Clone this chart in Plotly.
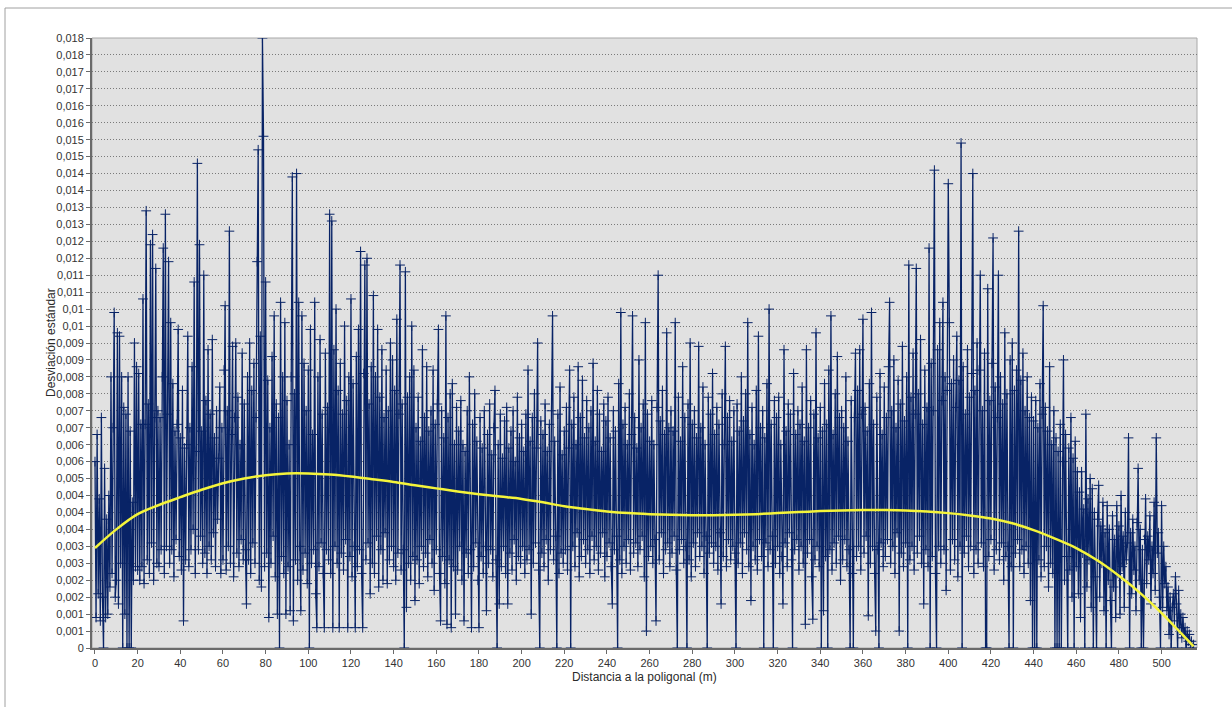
import plotly.graph_objects as go

# ---- Data (desviación estándar in thousandths, sampled every 0.5 m) ----
paso_m = 0.5

tramo_000 = [5.5, 0.9, 6.3, 1.6, 4.4, 0.8, 6.8, 1.5, 0.0, 5.3, 0.9, 3.8, 1.0, 4.5, 1.8, 8.0, 2.2, 6.5, 9.9, 1.5,
             2.0, 9.3, 1.3, 9.2, 2.5, 8.0, 0.0, 7.1, 1.0, 6.9, 0.0, 8.0, 0.0, 6.4, 0.0, 4.3, 2.0, 9.0, 2.4, 8.3,
             2.3, 8.1, 2.0, 6.6, 2.4, 10.3, 1.9, 6.6, 12.9, 2.6, 7.2, 2.2, 11.9, 3.1, 12.2, 2.0, 6.8, 11.2, 2.5, 7.0,
             2.4, 6.8, 2.9, 8.0, 11.8, 2.2, 12.8, 3.0, 6.9, 11.4, 2.5, 9.6, 2.9, 7.8, 2.1, 6.4, 3.2, 6.6, 9.4, 2.7,
             6.2, 2.3, 7.6, 0.8, 5.9, 2.6, 6.0, 9.2, 2.4, 6.5, 2.9, 8.3, 3.5, 10.8, 2.2, 5.8, 14.3, 2.9, 11.9, 3.3]
tramo_050 = [6.4, 2.5, 11.0, 2.8, 7.3, 2.2, 8.8, 3.0, 6.9, 2.6, 9.1, 3.4, 6.2, 2.4, 7.0, 3.8, 5.6, 7.7, 2.2, 6.5,
             2.6, 8.2, 10.1, 2.3, 7.0, 3.0, 12.3, 2.5, 6.3, 8.9, 2.1, 6.8, 9.0, 2.8, 7.4, 2.4, 6.0, 3.2, 8.7, 2.6,
             7.2, 2.9, 1.3, 8.0, 2.6, 9.0, 2.2, 7.6, 3.1, 8.4, 2.5, 6.8, 11.4, 14.7, 2.0, 9.2, 1.8, 18.0, 15.1, 2.4,
             10.8, 2.8, 7.9, 0.9, 6.5, 2.5, 8.6, 3.3, 9.8, 2.1, 7.2, 1.0, 6.8, 0.0, 10.2, 2.7, 8.0, 2.2, 9.6, 1.0,
             7.3, 2.4, 6.0, 1.1, 8.0, 13.9, 0.8, 7.5, 2.6, 14.0, 2.0, 10.2, 3.0, 1.1, 9.8, 2.3, 8.4, 2.8, 7.0, 1.9]
tramo_100 = [8.2, 0.0, 9.4, 2.5, 6.3, 2.9, 10.2, 1.6, 0.6, 8.0, 2.4, 9.1, 3.1, 6.9, 2.2, 0.6, 8.7, 2.9, 7.1, 2.6,
             12.8, 2.2, 12.6, 0.6, 8.8, 3.0, 10.0, 2.5, 7.6, 0.6, 8.4, 2.8, 6.9, 2.3, 9.5, 3.2, 7.3, 0.6, 8.0, 2.7,
             10.3, 2.1, 7.8, 3.0, 0.6, 8.6, 2.4, 9.4, 2.9, 11.7, 2.2, 0.6, 8.1, 11.3, 2.6, 11.5, 3.1, 7.2, 1.6, 8.3,
             2.5, 10.4, 2.2, 8.0, 3.3, 9.4, 1.8, 7.4, 2.9, 8.8, 2.0, 6.8, 3.4, 8.2, 1.9, 7.0, 2.6, 9.0, 3.0, 8.5,
             2.4, 7.6, 2.0, 9.7, 2.8, 6.9, 11.3, 2.3, 7.2, 2.9, 0.0, 11.1, 1.2, 7.4, 2.5, 8.0, 2.0, 9.5, 2.7, 8.2]
tramo_150 = [1.4, 6.5, 2.6, 7.4, 1.9, 6.1, 3.0, 8.8, 2.4, 6.8, 2.8, 8.3, 2.1, 6.4, 3.2, 7.0, 2.5, 8.2, 1.7, 6.6,
             2.9, 7.2, 9.4, 2.2, 0.8, 7.0, 2.7, 6.2, 1.9, 9.8, 0.7, 6.8, 2.6, 7.5, 0.6, 7.8, 2.4, 6.0, 1.0, 7.1,
             2.3, 6.4, 3.0, 7.3, 2.0, 6.0, 0.8, 5.8, 2.8, 7.0, 2.2, 8.0, 2.9, 0.6, 6.6, 2.4, 7.5, 3.1, 6.1, 2.0,
             0.6, 6.8, 2.7, 5.9, 2.2, 7.0, 3.0, 1.1, 6.3, 2.5, 7.2, 2.9, 5.7, 2.1, 6.5, 7.6, 2.6, 0.0, 6.0, 1.3,
             6.9, 2.4, 5.6, 3.0, 6.7, 2.2, 7.1, 1.3, 5.9, 2.8, 6.4, 2.3, 7.0, 3.2, 5.5, 2.0, 7.4, 2.7, 6.2, 2.5]
tramo_200 = [6.6, 3.0, 5.8, 2.2, 6.9, 2.6, 8.2, 2.9, 6.1, 1.0, 6.8, 2.5, 7.5, 3.1, 5.9, 9.0, 2.3, 0.0, 6.7, 2.8,
             6.3, 2.4, 7.2, 3.2, 5.8, 2.0, 6.6, 2.9, 7.0, 9.8, 2.6, 6.1, 3.3, 0.0, 6.9, 2.2, 7.7, 2.8, 5.7, 2.5,
             6.4, 2.9, 7.1, 2.3, 5.9, 8.2, 0.0, 6.6, 3.0, 7.4, 2.4, 6.0, 3.4, 8.3, 2.1, 6.8, 2.7, 7.9, 3.2, 6.2,
             2.5, 7.3, 2.9, 6.5, 2.2, 7.0, 3.3, 8.4, 2.6, 6.1, 3.0, 7.6, 2.3, 6.9, 2.8, 5.8, 3.4, 7.2, 2.1, 6.7,
             2.7, 7.4, 3.1, 6.2, 2.4, 1.3, 7.0, 2.9, 6.4, 3.3, 0.0, 7.8, 2.6, 9.9, 2.2, 6.6, 3.0, 7.1, 2.5, 6.0]
tramo_250 = [3.2, 7.5, 2.3, 6.3, 9.8, 2.8, 6.8, 3.1, 5.9, 2.4, 8.5, 2.9, 6.5, 3.3, 7.2, 2.1, 9.6, 0.5, 6.9, 2.7,
             6.1, 3.0, 7.3, 2.5, 6.0, 3.2, 0.8, 7.1, 11.0, 2.6, 6.7, 3.4, 7.6, 2.2, 6.3, 2.9, 9.3, 3.1, 6.5, 2.4,
             7.0, 2.8, 6.4, 3.3, 9.6, 2.3, 0.0, 7.4, 2.9, 6.1, 3.2, 8.3, 2.5, 6.8, 3.0, 0.0, 7.2, 2.6, 9.0, 2.1,
             6.6, 3.1, 7.0, 2.4, 6.2, 3.4, 8.9, 2.7, 6.5, 3.0, 7.7, 2.2, 6.0, 3.3, 0.0, 7.4, 2.8, 6.9, 3.1, 8.1,
             2.5, 6.3, 3.0, 7.1, 2.3, 6.6, 3.4, 1.3, 7.5, 2.7, 6.0, 8.9, 2.4, 6.8, 3.2, 7.3, 2.6, 6.1, 3.0, 7.0]
tramo_300 = [2.8, 0.0, 7.2, 2.5, 6.4, 3.1, 8.0, 2.2, 6.7, 3.4, 7.5, 2.9, 9.6, 2.4, 6.3, 1.4, 7.1, 3.0, 6.0, 2.6,
             7.6, 2.3, 9.2, 3.2, 6.5, 2.7, 7.0, 0.0, 6.2, 3.1, 7.8, 2.4, 10.0, 2.9, 6.6, 3.3, 0.0, 7.3, 2.5, 6.8,
             3.0, 7.4, 2.2, 6.0, 2.7, 1.3, 8.8, 3.1, 6.4, 2.4, 7.2, 3.4, 6.9, 2.6, 0.0, 8.1, 2.9, 6.3, 3.2, 7.0,
             2.3, 6.6, 3.0, 7.7, 2.5, 6.1, 0.7, 8.8, 2.8, 6.5, 3.2, 7.3, 2.1, 0.85, 6.9, 2.6, 9.3, 3.0, 6.2, 2.4,
             7.1, 0.0, 6.4, 1.1, 7.8, 2.7, 6.6, 0.0, 8.2, 2.9, 9.8, 2.3, 6.3, 3.1, 7.5, 2.5, 8.6, 3.3, 6.8, 2.0]
tramo_350 = [7.0, 2.6, 6.5, 3.2, 8.0, 2.4, 6.1, 2.9, 0.0, 7.3, 2.2, 0.0, 6.8, 8.7, 2.7, 7.6, 3.0, 8.8, 2.3, 6.9,
             9.7, 2.8, 7.1, 3.3, 6.4, 0.95, 7.8, 2.5, 9.9, 3.0, 6.6, 2.2, 0.5, 7.4, 2.9, 0.0, 8.1, 3.1, 6.3, 2.4,
             7.7, 2.7, 6.8, 3.2, 8.3, 10.2, 2.5, 7.0, 3.0, 8.5, 2.2, 6.5, 3.4, 7.9, 0.5, 7.2, 2.8, 8.9, 2.4, 6.7,
             3.1, 8.0, 0.0, 11.3, 2.6, 7.4, 3.0, 8.7, 2.3, 6.9, 11.2, 2.8, 7.5, 3.3, 9.1, 2.5, 6.6, 1.3, 8.2, 2.9,
             7.1, 2.4, 11.8, 0.0, 8.4, 2.7, 7.0, 14.1, 2.2, 0.0, 8.8, 3.0, 9.6, 2.5, 7.3, 10.2, 2.9, 8.0, 1.7, 7.6]
tramo_400 = [13.7, 9.6, 2.3, 7.8, 3.2, 8.5, 2.6, 7.1, 9.2, 2.1, 7.9, 3.0, 14.9, 0.0, 8.3, 2.8, 6.9, 3.3, 8.8, 2.4,
             7.4, 3.0, 8.1, 14.0, 2.2, 7.6, 2.9, 9.0, 2.5, 8.2, 11.0, 3.1, 7.0, 2.4, 8.7, 0.0, 0.0, 10.6, 2.7, 7.3,
             3.2, 8.4, 12.1, 2.3, 7.7, 2.9, 6.8, 11.0, 2.6, 8.0, 3.1, 7.2, 2.0, 9.3, 2.7, 7.5, 3.0, 0.0, 8.5, 2.4,
             9.0, 0.0, 7.6, 2.8, 8.2, 3.2, 12.3, 2.4, 7.9, 2.9, 8.7, 2.2, 7.0, 3.0, 8.0, 2.5, 6.8, 1.4, 7.4, 0.0,
             6.7, 0.0, 7.3, 0.0, 6.5, 2.6, 7.8, 2.1, 6.9, 10.1, 2.4, 7.1, 3.0, 6.4, 1.8, 8.3, 2.5, 6.0, 2.2, 7.0]
tramo_450 = [0.0, 6.2, 0.0, 5.8, 0.0, 6.6, 0.0, 5.5, 8.5, 2.0, 6.3, 2.7, 0.0, 5.9, 2.3, 6.8, 1.5, 5.6, 0.0, 6.1,
             2.4, 5.2, 1.6, 4.6, 0.9, 5.2, 2.8, 4.1, 0.0, 6.9, 1.8, 4.4, 2.6, 5.0, 1.2, 4.7, 0.0, 4.0, 2.1, 0.0,
             3.8, 4.8, 1.5, 3.6, 2.5, 4.3, 1.1, 3.4, 0.0, 4.2, 2.0, 3.5, 1.4, 0.0, 3.9, 1.8, 3.2, 0.9, 4.2, 2.2,
             3.6, 1.0, 4.5, 2.4, 3.3, 1.2, 4.0, 2.6, 3.1, 6.2, 0.0, 3.4, 1.6, 3.8, 2.3, 3.0, 1.1, 3.7, 5.3, 2.0,
             3.5, 0.0, 2.9, 0.0, 3.2, 4.4, 1.9, 3.3, 2.6, 3.9, 1.3, 3.0, 2.2, 4.3, 1.7, 6.2, 2.8, 3.4, 1.5, 0.0]
tramo_500 = [4.2, 1.2, 3.0, 1.9, 2.4, 1.1, 1.8, 0.4, 1.5, 0.0, 1.2, 1.6, 0.8, 2.1, 1.3, 0.0, 1.7, 0.6, 1.0, 0.3,
             0.9, 0.4, 0.6, 0.0, 0.5, 0.2, 0.4, 0.1, 0.2, 0.0, 0.1]

tramos = [(0, tramo_000), (50, tramo_050), (100, tramo_100), (150, tramo_150), (200, tramo_200),
          (250, tramo_250), (300, tramo_300), (350, tramo_350), (400, tramo_400), (450, tramo_450),
          (500, tramo_500)]

# Polynomial trend line, thousandths
tendencia_x = [0, 10, 20, 30, 40, 50, 60, 70, 80, 90, 100, 110, 120, 130, 140, 150, 160, 170, 180, 190,
               200, 210, 220, 230, 240, 250, 260, 270, 280, 290, 300, 310, 320, 330, 340, 350, 360, 370,
               380, 390, 400, 410, 420, 430, 440, 450, 460, 470, 480, 490, 500, 510, 515]
tendencia_y = [2.95, 3.5, 3.95, 4.22, 4.45, 4.67, 4.86, 5.0, 5.1, 5.15, 5.15, 5.12, 5.06, 4.98, 4.9, 4.8,
               4.71, 4.62, 4.54, 4.47, 4.4, 4.3, 4.18, 4.1, 4.03, 3.98, 3.95, 3.93, 3.92, 3.92, 3.93, 3.95,
               3.98, 4.01, 4.04, 4.06, 4.07, 4.07, 4.06, 4.03, 3.98, 3.91, 3.82, 3.68, 3.48, 3.23, 2.95,
               2.58, 2.13, 1.62, 1.03, 0.38, 0.05]

y_tickvals = [i * 0.5 for i in range(37)]
y_ticktext = ["0", "0,001", "0,001", "0,002", "0,002", "0,003", "0,003", "0,004", "0,004", "0,004",
              "0,005", "0,006", "0,006", "0,007", "0,007", "0,008", "0,008", "0,009", "0,009", "0,01",
              "0,01", "0,011", "0,011", "0,012", "0,012", "0,013", "0,013", "0,014", "0,014", "0,015",
              "0,015", "0,016", "0,016", "0,017", "0,017", "0,018", "0,018"]

# ---- Build series ----
dist = []
desv = []
for inicio, valores in tramos:
    for k, v in enumerate(valores):
        dist.append(inicio + paso_m * k)
        desv.append(v)

NAVY = "#082366"
FONT = "Liberation Sans, Arial, sans-serif"

fig = go.Figure()
fig.add_trace(go.Scatter(
    x=dist, y=desv, mode="lines+markers",
    line=dict(color=NAVY, width=1.3),
    marker=dict(symbol="cross-thin", size=7, line=dict(color=NAVY, width=1), color=NAVY),
    showlegend=False, hoverinfo="skip",
))
fig.add_trace(go.Scatter(
    x=tendencia_x, y=tendencia_y, mode="lines",
    line=dict(color="#F4F43A", width=2.5, shape="spline", smoothing=1.0),
    showlegend=False, hoverinfo="skip",
))

L, R, T, B = 92, 35, 38, 59
W, H = 1232, 707
pw, ph = W - L - R, H - T - B

fig.update_layout(
    width=W, height=H,
    margin=dict(l=L, r=R, t=T, b=B, autoexpand=False),
    paper_bgcolor="white",
    plot_bgcolor="#E1E1E1",
    font=dict(family=FONT, size=11, color="#2A2A2A"),
    xaxis=dict(
        range=[-1.4, 516.6], tickmode="array", tickvals=list(range(0, 501, 20)),
        ticktext=[str(v) for v in range(0, 501, 20)],
        showgrid=False, zeroline=False, showline=True, linecolor="#6A6A6A", linewidth=2,
        ticks="outside", ticklen=4, tickcolor="#6A6A6A", tickfont=dict(size=11, color="#333333"),
        automargin=False,
    ),
    yaxis=dict(
        range=[0, 18], tickmode="array", tickvals=y_tickvals, ticktext=y_ticktext,
        showgrid=True, gridcolor="#7A7A7A", griddash="1px,2px", gridwidth=1,
        zeroline=False, showline=True, linecolor="#6A6A6A", linewidth=2,
        ticks="outside", ticklen=4, tickcolor="#6A6A6A", tickfont=dict(size=11, color="#333333"),
        automargin=False,
    ),
    shapes=[
        dict(type="rect", xref="paper", yref="paper", x0=0, x1=1, y0=0, y1=1,
             line=dict(color="#A8A8A8", width=1), fillcolor="rgba(0,0,0,0)", layer="below"),
        dict(type="rect", xref="paper", yref="paper",
             x0=(5 - L) / pw, x1=(W + 20 - L) / pw, y0=-(H + 20 - (T + ph)) / ph, y1=(T + ph - 8) / ph,
             line=dict(color="#A0A0A0", width=1), fillcolor="rgba(0,0,0,0)", layer="below"),
    ],
    annotations=[
        dict(text="Desviación estándar", xref="paper", yref="paper",
             x=(51 - L) / pw, y=0.5, textangle=-90, showarrow=False,
             xanchor="center", yanchor="middle", font=dict(size=12, color="#2A2A2A")),
        dict(text="Distancia a la poligonal (m)", xref="paper", yref="paper",
             x=0.5, y=-(677 - (T + ph)) / ph, showarrow=False,
             xanchor="center", yanchor="middle", font=dict(size=12, color="#2A2A2A")),
    ],
)

fig.write_html("out.html")
